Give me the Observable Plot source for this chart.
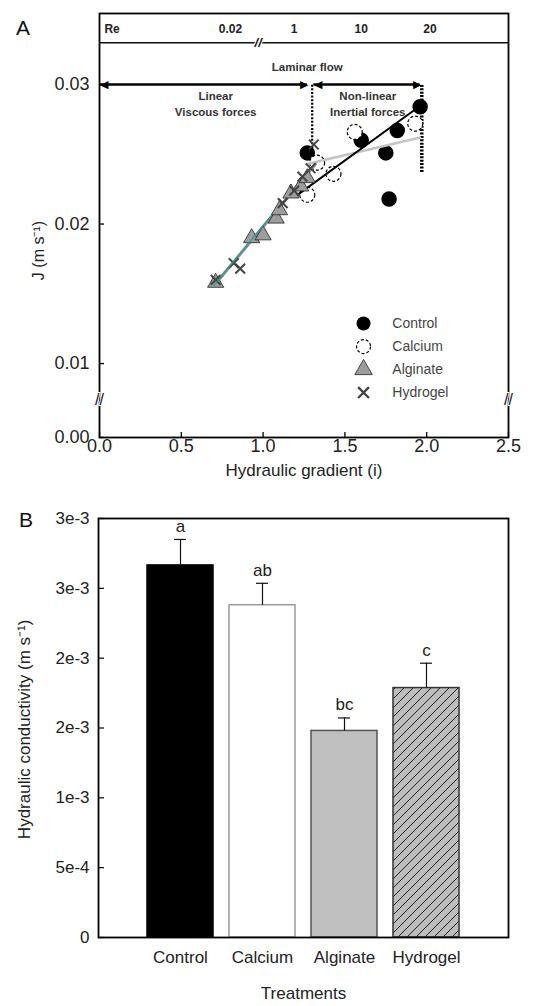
<!DOCTYPE html>
<html><head><meta charset="utf-8">
<script src="https://cdn.jsdelivr.net/npm/d3@7"></script>
<script src="https://cdn.jsdelivr.net/npm/@observablehq/plot@0.6"></script>
<style>
body{margin:0;background:#fff;font-family:"Liberation Sans",Arial,sans-serif;}
#wrap{position:relative;width:538px;height:1006px;overflow:hidden;}
#wrap svg{display:block;}
.lab{position:absolute;font-size:21px;color:#111;font-family:"Liberation Sans",Arial,sans-serif;}
</style></head><body>
<div id="wrap"></div>
<script>
// ---------- Panel A data ----------
const controlX = [1.27, 1.60, 1.82, 1.96, 1.75, 1.77];
const controlJ = [0.0251, 0.0260, 0.0267, 0.0284, 0.0251, 0.0218];
const calciumX = [1.27, 1.43, 1.56, 1.93, 1.33];
const calciumJ = [0.0221, 0.0236, 0.0266, 0.0272, 0.0244];
const alginateX = [0.71, 0.93, 1.00, 1.08, 1.10, 1.17, 1.23, 1.27];
const alginateJ = [0.0158, 0.0190, 0.0192, 0.0204, 0.0210, 0.0222, 0.0227, 0.0233];
const hydrogelX = [0.71, 0.82, 0.86, 1.12, 1.19, 1.24, 1.29, 1.31];
const hydrogelJ = [0.0160, 0.0172, 0.0168, 0.0215, 0.0224, 0.0234, 0.0240, 0.0257];
// fitted lines (end points)
const fitControlX = [1.20, 1.94], fitControlJ = [0.0220, 0.0283];
const fitNonlinX = [1.27, 1.96], fitNonlinJ = [0.0243, 0.0262];
const fitLinearX = [0.70, 1.32], fitLinearJ = [0.0156, 0.0243];
const fitTealX = [0.70, 1.05], fitTealJ = [0.0156, 0.0206];
// Reynolds numbers along the top band
const reLabels = ["0.02", "1", "10", "20"];
const reAt = [0.80, 1.19, 1.60, 2.02];
// regime limits
const viscousRange = [0.0, 1.27];
const inertialRange = [1.31, 1.96];
const linearLimit = 1.30, nonlinearLimit = 1.97;
// axes
const xTicksA = [0, 0.5, 1.0, 1.5, 2.0, 2.5];
const xTickLabelsA = ["0.0", "0.5", "1.0", "1.5", "2.0", "2.5"];
const yTicksA = [0, 0.01, 0.02, 0.03];
const yTickLabelsA = ["0.00", "0.01", "0.02", "0.03"];
const seriesNames = ["Control", "Calcium", "Alginate", "Hydrogel"];

// ---------- Panel B data ----------
const treatments = ["Control", "Calcium", "Alginate", "Hydrogel"];
const conductivity = [0.002664, 0.002379, 0.001479, 0.001786];
const stdError = [0.000186, 0.000157, 0.000093, 0.000178];
const letters = ["a", "ab", "bc", "c"];
const yTicksB = [0, 0.0005, 0.001, 0.0015, 0.002, 0.0025, 0.003];
const yTickLabelsB = ["0", "5e-4", "1e-3", "2e-3", "2e-3", "3e-3", "3e-3"];

const font = "'Liberation Sans', Arial, sans-serif";
const pts = (xs, ys) => xs.map((x, i) => ({x, y: ys[i]}));

// ---------- Panel A ----------
// broken y axis: the segment 0 .. 0.0074 is squeezed, so 0 is drawn at the axis floor
const yFloor = 0.0047, yTop = 0.03509, yBreak = 0.0074;
const brk = v => (v === 0 ? yFloor : v);
const legendX = 1.614, legendTextX = 1.79;
const legendJ = [0.01287, 0.01122, 0.00957, 0.00792];
const frameWA = 538 - 99 - 30, frameHA = 480 - 13 - 43;

const plotA = Plot.plot({
  width: 538, height: 480,
  marginLeft: 99, marginRight: 30, marginTop: 13, marginBottom: 43,
  style: {fontFamily: font, fontSize: "14px", color: "#222", background: "white", overflow: "visible"},
  x: {domain: [0, 2.5]},
  y: {domain: [yFloor, yTop]},
  marks: [
    Plot.ruleY([0.033], {stroke: "#111", strokeWidth: 1.5}),
    Plot.text(["Re"], {x: [0.03], y: [0.03394], textAnchor: "start", fontWeight: "bold", fontSize: 12, fill: "#222"}),
    Plot.text(reLabels, {x: reAt, y: 0.03394, fontWeight: "bold", fontSize: 12, fill: "#222"}),
    Plot.text(["//"], {x: [0.97], y: [0.033], fontWeight: "bold", fontSize: 13, fill: "#111", stroke: "white", strokeWidth: 2, fontStyle: "italic"}),
    Plot.text(["Laminar flow"], {x: [1.27], y: [0.03122], fontWeight: "bold", fontSize: 11.5, fill: "#333"}),
    Plot.text(["Linear\nViscous forces"], {x: [0.71], y: [0.0287], fontWeight: "bold", fontSize: 11.5, fill: "#333", lineHeight: 1.4}),
    Plot.text(["Non-linear\nInertial forces"], {x: [1.64], y: [0.0287], fontWeight: "bold", fontSize: 11.5, fill: "#333", lineHeight: 1.4}),
    // regime arrows
    Plot.ruleY([0.03], {x1: viscousRange[0], x2: viscousRange[1], stroke: "#000", strokeWidth: 2.5}),
    Plot.ruleY([0.03], {x1: inertialRange[0], x2: inertialRange[1], stroke: "#000", strokeWidth: 2.5}),
    Plot.text(["◀", "◀"], {x: [viscousRange[0], inertialRange[0]], y: 0.03, textAnchor: "start", fontSize: 11, fill: "#000", dx: 0}),
    Plot.text(["▶", "▶"], {x: [viscousRange[1], inertialRange[1]], y: 0.03, textAnchor: "end", fontSize: 11, fill: "#000", dx: 1}),
    Plot.ruleX([linearLimit], {y1: 0.0249, y2: 0.03, stroke: "#000", strokeWidth: 2.2, strokeDasharray: "2,1.6"}),
    Plot.ruleX([nonlinearLimit], {y1: 0.0237, y2: 0.03, stroke: "#000", strokeWidth: 3.5, strokeDasharray: "2,1.4"}),
    // data
    Plot.dot(pts(controlX, controlJ), {x: "x", y: "y", r: 7, fill: "#000", stroke: "#000"}),
    Plot.dot(pts(calciumX, calciumJ), {x: "x", y: "y", r: 7.5, fill: "white", stroke: "#000", strokeWidth: 1.2, strokeDasharray: "3,2"}),
    Plot.line(pts(fitNonlinX, fitNonlinJ), {x: "x", y: "y", stroke: "#c4c4c4", strokeWidth: 2.5}),
    Plot.line(pts(fitControlX, fitControlJ), {x: "x", y: "y", stroke: "#000", strokeWidth: 2}),
    Plot.line(pts(fitLinearX, fitLinearJ), {x: "x", y: "y", stroke: "#8c8c8c", strokeWidth: 3}),
    Plot.dot(pts(alginateX, alginateJ), {x: "x", y: "y", symbol: "triangle", r: 6, fill: "#9d9d9d", stroke: "#222", strokeWidth: 0.8}),
    Plot.dot(pts(hydrogelX, hydrogelJ), {x: "x", y: "y", symbol: "times", r: 4.5, stroke: "#444", strokeWidth: 2}),
    Plot.line(pts(fitTealX, fitTealJ), {x: "x", y: "y", stroke: "#2a9b9b", strokeWidth: 1.2}),
    // legend
    Plot.dot([0], {x: legendX, y: legendJ[0], r: 7, fill: "#000"}),
    Plot.dot([0], {x: legendX, y: legendJ[1], r: 7, fill: "white", stroke: "#000", strokeWidth: 1.2, strokeDasharray: "3,2"}),
    Plot.dot([0], {x: legendX, y: legendJ[2], r: 6.5, symbol: "triangle", fill: "#9d9d9d", stroke: "#222", strokeWidth: 0.8}),
    Plot.dot([0], {x: legendX, y: legendJ[3], r: 5, symbol: "times", stroke: "#444", strokeWidth: 2.4}),
    Plot.text(seriesNames, {x: legendTextX, y: legendJ, textAnchor: "start", fontSize: 14, fill: "#444"}),
    // axes (inward tick marks)
    Plot.tickX(xTicksA, {x: d => d, insetTop: frameHA - 5, stroke: "#000", strokeWidth: 1.3}),
    Plot.tickY(yTicksA, {y: d => brk(d), insetRight: frameWA - 5, stroke: "#000", strokeWidth: 1.3}),
    Plot.axisX({ticks: xTicksA, tickFormat: (d, i) => xTickLabelsA[i], tickSize: 0, tickPadding: 2, fontSize: 18,
      label: "Hydraulic gradient (i)", labelAnchor: "center", labelOffset: 38, labelArrow: "none"}),
    Plot.axisY(yTicksA.map(brk), {tickFormat: (d, i) => yTickLabelsA[i], tickSize: 0, tickPadding: 10, fontSize: 18, label: null}),
    Plot.text(["J (m s⁻¹)"], {frameAnchor: "left", y: [0.0181], dx: -61, rotate: -90, textAnchor: "middle", fontSize: 16, fill: "#222"}),
    Plot.frame({stroke: "#000", strokeWidth: 1.8}),
    // axis breaks
    Plot.text(["//"], {frameAnchor: "left", y: [yBreak], textAnchor: "middle", fontSize: 16, fill: "#111", stroke: "white", strokeWidth: 2}),
    Plot.text(["//"], {frameAnchor: "right", y: [yBreak], textAnchor: "middle", fontSize: 16, fill: "#111", stroke: "white", strokeWidth: 2})
  ]
});
// x-axis title font size
plotA.querySelectorAll("[aria-label='x-axis label'] text, [aria-label='x-axis label']").forEach(n => n.setAttribute("font-size", "17"));

// ---------- Panel B ----------
const tableB = treatments.map((t, i) => ({t, v: conductivity[i], se: stdError[i], letter: letters[i]}));
const barFill = {Control: "#000", Calcium: "#fff", Alginate: "#c0c0c0", Hydrogel: "url(#hatch)"};
const barStroke = {Control: "#000", Calcium: "#9a9a9a", Alginate: "#555", Hydrogel: "#333"};
const frameWB = 538 - 98 - 30;

const plotB = Plot.plot({
  width: 538, height: 526,
  marginLeft: 98, marginRight: 30, marginTop: 38, marginBottom: 69,
  style: {fontFamily: font, fontSize: "14px", color: "#222", background: "white", overflow: "visible"},
  x: {domain: treatments, paddingInner: 0.2, paddingOuter: 0.6},
  y: {domain: [0, 0.003]},
  color: {type: "identity"},
  marks: [
    Plot.barY(tableB, {x: "t", y: "v", fill: d => barFill[d.t], stroke: d => barStroke[d.t], strokeWidth: 1.5}),
    Plot.ruleX(tableB, {x: "t", y1: "v", y2: d => d.v + d.se, stroke: "#111", strokeWidth: 1.2}),
    Plot.tickY(tableB, {x: "t", y: d => d.v + d.se, stroke: "#111", strokeWidth: 1.2, insetLeft: 27, insetRight: 27}),
    Plot.text(tableB, {x: "t", y: d => d.v + d.se, text: "letter", dy: -13, fontSize: 17, fill: "#222"}),
    Plot.tickY(yTicksB, {y: d => d, insetRight: frameWB - 6, stroke: "#000", strokeWidth: 1.2}),
    Plot.axisY({ticks: yTicksB, tickFormat: (d, i) => yTickLabelsB[i], tickSize: 0, tickPadding: 9, fontSize: 17, label: null}),
    Plot.axisX({tickSize: 0, tickPadding: 13, fontSize: 17, label: "Treatments", labelAnchor: "center", labelOffset: 61, labelArrow: "none"}),
    Plot.text(["Hydraulic conductivity (m s⁻¹)"], {frameAnchor: "left", y: [0.00149], dx: -74, rotate: -90, textAnchor: "middle", fontSize: 17, fill: "#222"}),
    Plot.frame({stroke: "#000", strokeWidth: 1.8})
  ]
});
plotB.querySelectorAll("[aria-label='x-axis label'] text, [aria-label='x-axis label']").forEach(n => n.setAttribute("font-size", "17"));

// hatch pattern for the hydrogel bar
const ns = "http://www.w3.org/2000/svg";
const defs = document.createElementNS(ns, "defs");
defs.innerHTML = '<pattern id="hatch" patternUnits="userSpaceOnUse" width="9" height="9">' +
  '<rect width="9" height="9" fill="#bdbdbd"/>' +
  '<path d="M-2,2 L2,-2 M0,9 L9,0 M7,11 L11,7" stroke="#222" stroke-width="1"/></pattern>';
plotB.prepend(defs);

const wrap = document.getElementById("wrap");
wrap.append(plotA, plotB);
const la = document.createElement("div"); la.className = "lab"; la.style.left = "16px"; la.style.top = "16px"; la.textContent = "A";
const lb = document.createElement("div"); lb.className = "lab"; lb.style.left = "19px"; lb.style.top = "508px"; lb.textContent = "B";
wrap.append(la, lb);
</script>
</body></html>
